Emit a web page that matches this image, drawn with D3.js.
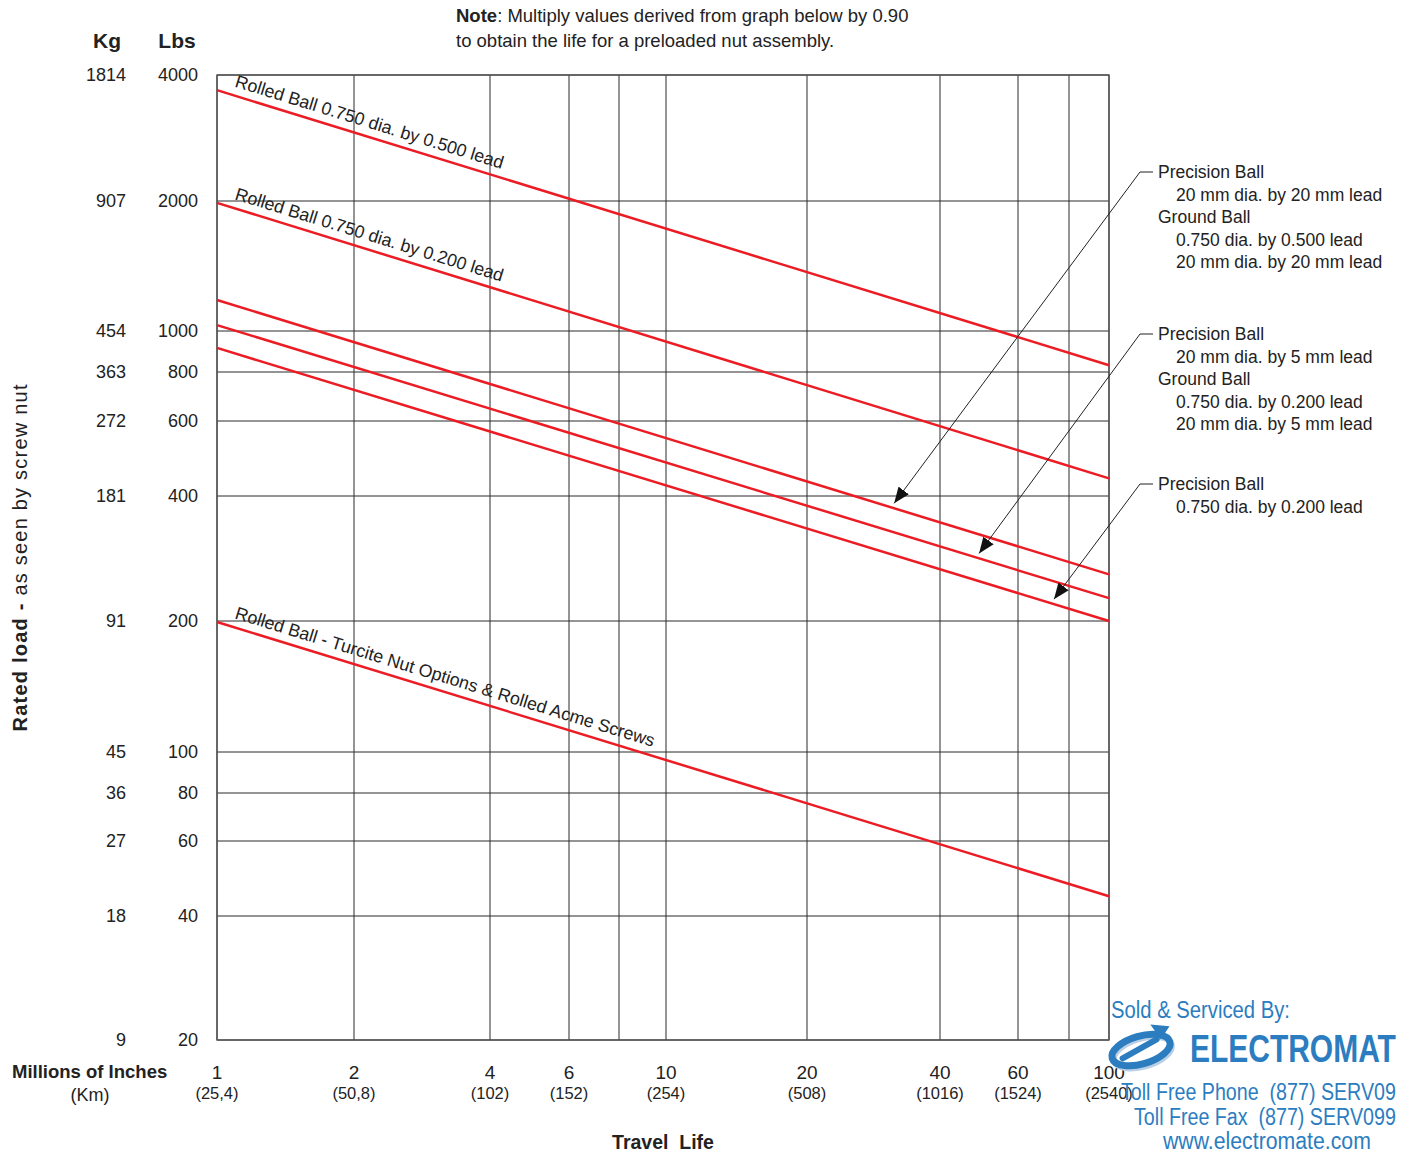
<!DOCTYPE html>
<html>
<head>
<meta charset="utf-8">
<script src="https://cdn.jsdelivr.net/npm/d3@7"></script>
<style>
  body { margin: 0; background: #fff; }
  svg { display: block; font-family: "Liberation Sans", Arial, sans-serif; }
</style>
</head>
<body>
<div id="chart"></div>
<script>
// travel life, millions of inches
const lifeTicks = [1, 2, 4, 6, 10, 20, 40, 60, 100];
const lifeKm = ["(25,4)", "(50,8)", "(102)", "(152)", "(254)", "(508)", "(1016)", "(1524)", "(2540)"];
const lifeGrid = [1, 2, 4, 6, 8, 10, 20, 40, 60, 80, 100];

// rated load
const loadLbs = [4000, 2000, 1000, 800, 600, 400, 200, 100, 80, 60, 40, 20];
const loadKg = [1814, 907, 454, 363, 272, 181, 91, 45, 36, 27, 18, 9];

// each curve runs from life 1 to life 100 (lbs at each end)
const lifeEnds = [1, 100];
const rolled500 = [3680, 830];
const rolled200 = [1980, 440];
const precision20 = [1180, 259];
const precision5 = [1032, 227];
const precision200 = [912, 200];
const turcite = [199, 44.5];

const curves = [
    { values: rolled500, text: "Rolled Ball 0.750 dia. by 0.500 lead" },
    { values: rolled200, text: "Rolled Ball 0.750 dia. by 0.200 lead" },
    { values: precision20, text: null },
    { values: precision5, text: null },
    { values: precision200, text: null },
    { values: turcite, text: "Rolled Ball - Turcite Nut Options & Rolled Acme Screws" }
];

// callouts: which curve, life value the arrow points at, text lines
const callouts = [
    { curve: 2, life: 31.5, lines: ["Precision Ball", "  20 mm dia. by 20 mm lead", "Ground Ball", "  0.750 dia. by 0.500 lead", "  20 mm dia. by 20 mm lead"], top: 172 },
    { curve: 3, life: 49, lines: ["Precision Ball", "  20 mm dia. by 5 mm lead", "Ground Ball", "  0.750 dia. by 0.200 lead", "  20 mm dia. by 5 mm lead"], top: 334 },
    { curve: 4, life: 73.5, lines: ["Precision Ball", "  0.750 dia. by 0.200 lead"], top: 484 }
];

const width = 1402, height = 1153;

const svg = d3.select("#chart").append("svg")
    .attr("width", width)
    .attr("height", height);

// the printed grid is not quite evenly logarithmic, so the log scales are piecewise
const xRange = [217, 354, 490, 569, 619, 666, 807, 940, 1018, 1069, 1109];
const yRange = [75, 201, 331, 372, 421, 496, 621, 752, 793, 841, 916, 1040];
const x = d3.scaleLog().domain(lifeGrid).range(xRange);
const y = d3.scaleLog().domain(loadLbs).range(yRange);

// pixel point on a curve at a given x
function curveY(vals, px) {
    const t = (px - x(1)) / (x(100) - x(1));
    return y(vals[0]) + t * (y(vals[1]) - y(vals[0]));
}

// grid
svg.append("g").selectAll("line")
    .data(lifeGrid)
    .join("line")
    .attr("x1", d => x(d)).attr("x2", d => x(d))
    .attr("y1", y(4000)).attr("y2", y(20))
    .attr("stroke", "#2a2a2a").attr("stroke-width", 1);

svg.append("g").selectAll("line")
    .data(loadLbs)
    .join("line")
    .attr("x1", x(1)).attr("x2", x(100))
    .attr("y1", d => y(d)).attr("y2", d => y(d))
    .attr("stroke", "#2a2a2a").attr("stroke-width", 1);

svg.append("rect")
    .attr("x", x(1)).attr("y", y(4000))
    .attr("width", x(100) - x(1)).attr("height", y(20) - y(4000))
    .attr("fill", "none").attr("stroke", "#555").attr("stroke-width", 1.4);

// curves
const line = d3.line().x(d => x(d[0])).y(d => y(d[1]));
svg.append("g").selectAll("path")
    .data(curves)
    .join("path")
    .attr("d", d => line(lifeEnds.map((l, i) => [l, d.values[i]])))
    .attr("fill", "none")
    .attr("stroke", "#ec1c24")
    .attr("stroke-width", 2.5);

// labels along curves
curves.filter(d => d.text).forEach(d => {
    const ang = Math.atan2(y(d.values[1]) - y(d.values[0]), x(100) - x(1)) * 180 / Math.PI;
    const lx = 234;
    const ly = curveY(d.values, lx) - 9;
    svg.append("text")
        .attr("transform", `translate(${lx},${ly}) rotate(${ang})`)
        .attr("font-size", 17.8)
        .attr("fill", "#222")
        .text(d.text);
});

// callouts with arrows
svg.append("defs").append("marker")
    .attr("id", "arrow")
    .attr("viewBox", "0 0 10 10")
    .attr("refX", 10).attr("refY", 5)
    .attr("markerWidth", 16).attr("markerHeight", 16)
    .attr("markerUnits", "userSpaceOnUse")
    .attr("orient", "auto")
    .append("path")
    .attr("d", "M0,1 L10,5 L0,9 Z")
    .attr("fill", "#111");

callouts.forEach(c => {
    const tipX = x(c.life);
    const tipY = curveY(curves[c.curve].values, tipX) - 5;
    svg.append("polyline")
        .attr("points", `1153,${c.top} 1140,${c.top} ${tipX},${tipY}`)
        .attr("fill", "none")
        .attr("stroke", "#222")
        .attr("stroke-width", 1)
        .attr("marker-end", "url(#arrow)");
    c.lines.forEach((t, i) => {
        svg.append("text")
            .attr("x", t.startsWith("  ") ? 1176 : 1158)
            .attr("y", c.top + 6 + i * 22.5)
            .attr("font-size", 17.5)
            .attr("fill", "#222")
            .text(t.trim());
    });
});

// y axis labels
svg.append("g").selectAll("text")
    .data(loadLbs)
    .join("text")
    .attr("x", 198).attr("y", d => y(d) + 6)
    .attr("text-anchor", "end")
    .attr("font-size", 18).attr("fill", "#222")
    .text(d => d);

svg.append("g").selectAll("text")
    .data(loadKg)
    .join("text")
    .attr("x", 126).attr("y", (d, i) => y(loadLbs[i]) + 6)
    .attr("text-anchor", "end")
    .attr("font-size", 18).attr("fill", "#222")
    .text(d => d);

svg.append("text").attr("x", 107).attr("y", 48).attr("text-anchor", "middle")
    .attr("font-size", 21).attr("font-weight", "bold").attr("fill", "#222").text("Kg");
svg.append("text").attr("x", 177).attr("y", 48).attr("text-anchor", "middle")
    .attr("font-size", 21).attr("font-weight", "bold").attr("fill", "#222").text("Lbs");

const yTitle = svg.append("text")
    .attr("transform", "translate(27,558) rotate(-90)")
    .attr("text-anchor", "middle")
    .attr("font-size", 20).attr("fill", "#222")
    .attr("textLength", 347).attr("lengthAdjust", "spacing");
yTitle.append("tspan").attr("font-weight", "bold").text("Rated load - ");
yTitle.append("tspan").text("as seen by screw nut");

// x axis labels
svg.append("g").selectAll("text")
    .data(lifeTicks)
    .join("text")
    .attr("x", d => x(d)).attr("y", 1079)
    .attr("text-anchor", "middle")
    .attr("font-size", 19).attr("fill", "#222")
    .text(d => d);

svg.append("g").selectAll("text")
    .data(lifeTicks)
    .join("text")
    .attr("x", d => x(d)).attr("y", 1099)
    .attr("text-anchor", "middle")
    .attr("font-size", 16.5).attr("fill", "#222")
    .text((d, i) => lifeKm[i]);

svg.append("text").attr("x", 12).attr("y", 1078)
    .attr("font-size", 18.5).attr("font-weight", "bold").attr("fill", "#222").text("Millions of Inches");
svg.append("text").attr("x", 90).attr("y", 1101).attr("text-anchor", "middle")
    .attr("font-size", 18).attr("fill", "#222").text("(Km)");
svg.append("text").attr("x", 663).attr("y", 1149).attr("text-anchor", "middle")
    .attr("font-size", 19.5).attr("font-weight", "bold").attr("fill", "#222")
    .attr("xml:space", "preserve").text("Travel  Life");

// note
const note = svg.append("text").attr("x", 456).attr("y", 22).attr("font-size", 18.5).attr("fill", "#222");
note.append("tspan").attr("font-weight", "bold").text("Note");
note.append("tspan").text(": Multiply values derived from graph below by 0.90");
svg.append("text").attr("x", 456).attr("y", 47).attr("font-size", 18.5).attr("fill", "#222")
    .text("to obtain the life for a preloaded nut assembly.");

// dealer block: condensed lettering, squeezed horizontally with a transform
const blue = "#2b7dc0";
const logo = svg.append("g").attr("fill", blue);
function narrow(txt, x0, y0, size, len, bold) {
    const t = logo.append("text")
        .attr("font-size", size)
        .attr("font-weight", bold ? "bold" : "normal")
        .attr("xml:space", "preserve")
        .text(txt);
    const natural = t.node().getComputedTextLength();
    t.attr("transform", `translate(${x0},${y0}) scale(${len / natural},1)`);
}
narrow("Sold & Serviced By:", 1111, 1018, 24.5, 179, false);
narrow("ELECTROMAT", 1190, 1062, 39, 206, true);
narrow("Toll Free Phone  (877) SERV09", 1121, 1100, 24.5, 275, false);
narrow("Toll Free Fax  (877) SERV099", 1134, 1125, 24.5, 262, false);
narrow("www.electromate.com", 1163, 1149, 24.5, 208, false);

// swoosh icon
const icon = svg.append("g").attr("transform", "translate(1141,1050) rotate(-16)");
icon.append("ellipse").attr("cx", 1).attr("cy", 3).attr("rx", 30).attr("ry", 14)
    .attr("fill", "none").attr("stroke", "#b8cfe6").attr("stroke-width", 6);
icon.append("ellipse").attr("rx", 30).attr("ry", 14)
    .attr("fill", "none").attr("stroke", blue).attr("stroke-width", 7);
icon.append("path").attr("d", "M-20,3 L18,-6").attr("stroke", blue).attr("stroke-width", 6).attr("stroke-linecap", "round");
icon.append("path").attr("d", "M16,-22 L34,-15 L22,-5 Z").attr("fill", blue);
</script>
</body>
</html>
